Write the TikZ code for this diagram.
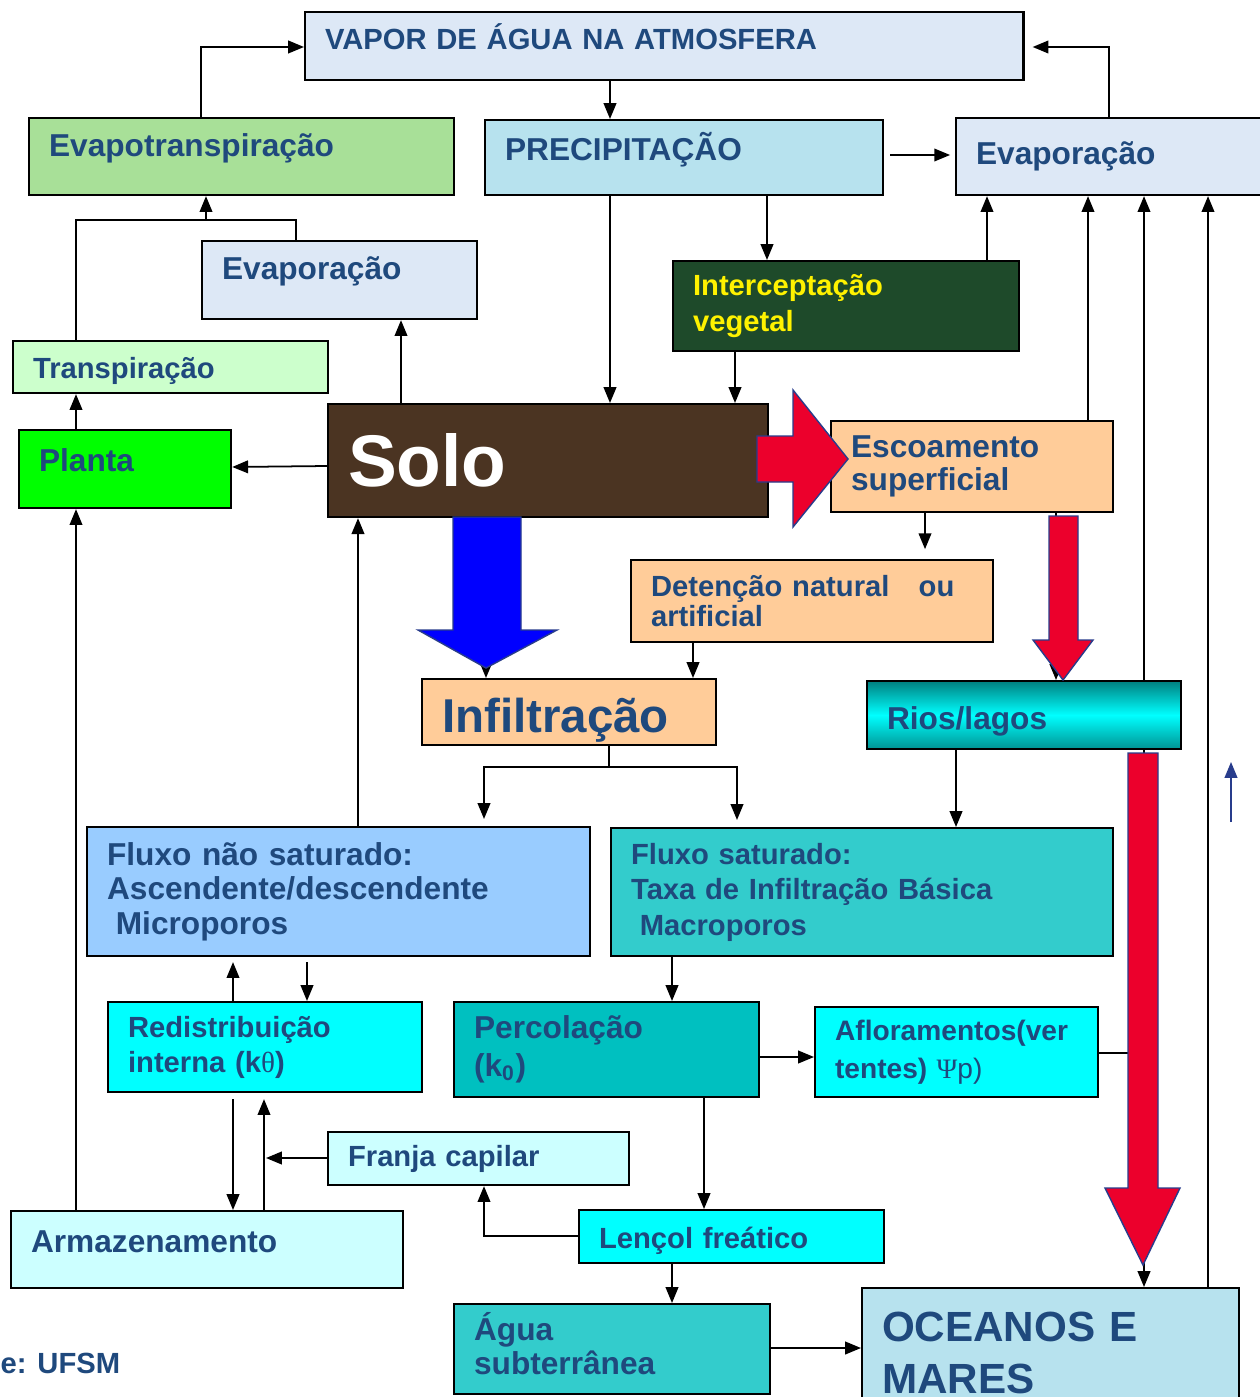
\documentclass[tikz,border=0pt]{standalone}
\usepackage{fontspec}
\setmainfont{Liberation Sans}
\newfontfamily\symfont{Liberation Serif}
\usetikzlibrary{arrows.meta}
\definecolor{txtblue}{RGB}{31,73,125}
\definecolor{skyfill}{RGB}{221,232,246}
\definecolor{rainfill}{RGB}{183,226,238}
\definecolor{leaffill}{RGB}{168,224,152}
\definecolor{mintfill}{RGB}{204,255,204}
\definecolor{limefill}{RGB}{0,255,0}
\definecolor{forest}{RGB}{30,74,42}
\definecolor{soil}{RGB}{75,52,34}
\definecolor{sand}{RGB}{255,204,153}
\definecolor{paleblue}{RGB}{153,204,255}
\definecolor{seagreen}{RGB}{51,204,204}
\definecolor{deepteal}{RGB}{0,192,192}
\definecolor{aqua}{RGB}{0,255,255}
\definecolor{palecyan}{RGB}{204,255,255}
\definecolor{darkteal}{RGB}{0,128,128}
\definecolor{flowred}{RGB}{236,0,44}
\definecolor{edgeblue}{RGB}{40,60,140}
\definecolor{fatblue}{RGB}{0,0,255}
\tikzset{
  box/.style={draw, line width=0.6pt, anchor=north west, inner xsep=0.2cm, inner ysep=0pt, align=left, text=txtblue},
  fsS/.style={font=\fontsize{8.3}{10}\selectfont\bfseries},
  fsM/.style={font=\fontsize{9}{9.8}\selectfont\bfseries},
  lift/.style={text depth=#1},
  drop/.style={text height=#1},
  ln/.style={line width=0.5pt},
  arr/.style={line width=0.5pt, -{Triangle[length=4.5pt,width=3.6pt]}},
  fatarrow/.style={draw=edgeblue, line width=0.4pt},
}
\begin{document}
\begin{tikzpicture}[x=0.01cm, y=-0.01cm]
\fill[white] (0,0) rectangle (1259,1397);
\useasboundingbox (0,0) rectangle (1259,1397);

\node[box, fsS, lift=5.6pt, fill=skyfill, minimum width=7.18cm, minimum height=0.68cm, text width=6.78cm] (vapor) at (304,11) {VAPOR DE ÁGUA NA ATMOSFERA};
\node[box, fsM, lift=6.5pt, fill=leaffill, minimum width=4.25cm, minimum height=0.77cm, text width=3.85cm] (evapotr) at (28,117) {Evapotranspiração};
\node[box, fsM, lift=6.5pt, fill=rainfill, minimum width=3.98cm, minimum height=0.75cm, text width=3.58cm] (precip) at (484,119) {PRECIPITAÇÃO};
\node[box, fsM, fill=skyfill, minimum width=3.20cm, minimum height=0.77cm, text width=2.80cm] (evapR) at (955,117) {Evaporação};
\node[box, fsM, lift=7pt, fill=skyfill, minimum width=2.75cm, minimum height=0.78cm, text width=2.35cm] (evapM) at (201,240) {Evaporação};
\node[box, fsS, fill=forest, text=yellow, minimum width=3.46cm, minimum height=0.90cm, text width=3.06cm] (interc) at (672,260) {Interceptação\\vegetal};
\node[box, fsS, drop=8.3pt, fill=mintfill, minimum width=3.15cm, minimum height=0.52cm, text width=2.75cm] (transp) at (12,340) {Transpiração};
\node[box, fsM, lift=5.1pt, fill=limefill, minimum width=2.12cm, minimum height=0.78cm, text width=1.72cm] (planta) at (18,429) {Planta};
\node[box, font=\fontsize{20.8}{24}\selectfont\bfseries, fill=soil, text=white, minimum width=4.40cm, minimum height=1.13cm, text width=4.00cm] (solo) at (327,403) {Solo};
\node[box, font=\fontsize{9}{9.4}\selectfont\bfseries, fill=sand, minimum width=2.82cm, minimum height=0.91cm, text width=2.42cm] (escoam) at (830,420) {Escoamento\\superficial};
\node[box, font=\fontsize{8.3}{8.8}\selectfont\bfseries, fill=sand, minimum width=3.62cm, minimum height=0.82cm, text width=3.22cm] (deten) at (630,559) {Detenção natural\ \ \ ou\\artificial};
\node[box, font=\fontsize{13.5}{16}\selectfont\bfseries, drop=14.6pt, fill=sand, minimum width=2.94cm, minimum height=0.66cm, text width=2.54cm] (infil) at (421,678) {Infiltração};
\node[box, fsM, drop=10pt, top color=darkteal, bottom color=darkteal!85!aqua, middle color=aqua, minimum width=3.14cm, minimum height=0.68cm, text width=2.74cm] (rios) at (866,680) {Rios/lagos};
\node[box, fsM, fill=paleblue, minimum width=5.03cm, minimum height=1.29cm, text width=4.63cm] (fluxoNS) at (86,826) {Fluxo não saturado:\\Ascendente/descendente\\\hspace*{2.5pt}Microporos};
\node[box, font=\fontsize{8.3}{10.1}\selectfont\bfseries, fill=seagreen, minimum width=5.02cm, minimum height=1.28cm, text width=4.62cm] (fluxoS) at (610,827) {Fluxo saturado:\\Taxa de Infiltração Básica\\\hspace*{2.5pt}Macroporos};
\node[box, fsS, fill=aqua, minimum width=3.14cm, minimum height=0.90cm, text width=2.74cm] (redist) at (107,1001) {Redistribuição\\interna (k{\symfont\mdseries θ})};
\node[box, font=\fontsize{9}{10.8}\selectfont\bfseries, fill=deepteal, minimum width=3.05cm, minimum height=0.95cm, text width=2.65cm] (percol) at (453,1001) {Percolação\\(k\textsubscript{0})};
\node[box, font=\fontsize{8}{10.8}\selectfont\bfseries, fill=aqua, minimum width=2.83cm, minimum height=0.90cm, text width=2.43cm] (aflor) at (814,1006) {Afloramentos(ver\\tentes) {\symfont\mdseries Ψ}{\mdseries p)}};
\node[box, fsS, fill=palecyan, minimum width=3.01cm, minimum height=0.53cm, text width=2.61cm] (franja) at (327,1131) {Franja capilar};
\node[box, fsM, lift=4.6pt, fill=palecyan, minimum width=3.92cm, minimum height=0.77cm, text width=3.52cm] (armaz) at (10,1210) {Armazenamento};
\node[box, fsS, drop=8.5pt, fill=aqua, minimum width=3.05cm, minimum height=0.53cm, text width=2.65cm] (lencol) at (578,1209) {Lençol freático};
\node[box, font=\fontsize{9}{9.7}\selectfont\bfseries, lift=13pt, fill=seagreen, minimum width=3.16cm, minimum height=0.90cm, text width=2.76cm] (agua) at (453,1303) {Água\\subterrânea};
\node[box, font=\fontsize{12}{14.8}\selectfont\bfseries, fill=rainfill, minimum width=3.77cm, minimum height=1.30cm, text width=3.37cm] (oceanos) at (861,1287) {OCEANOS E\\MARES};
\node[fsS, text=txtblue, anchor=west, inner sep=0pt] (fonte) at (0,1363) {e: UFSM};

\coordinate (tjoin) at (206,220);
\coordinate (isplit) at (609,767);
\coordinate (ajoin) at (1144,1053);
\coordinate (fjoin) at (266,1158);
\coordinate (bluetail) at (1231,822);
\coordinate (bluehead) at (1231,762);

\draw[arr] (evapotr.north -| 201,0) |- (vapor.west |- 0,47);
\draw[arr, shorten >=2.3pt] (evapR.north -| 1109,0) |- (vapor.east |- 0,47);
\draw[arr] (vapor.south -| 610,0) -- (precip.north -| 610,0);
\draw[arr, shorten <=1.7pt, shorten >=1.4pt] (precip.east |- 0,155) -- (evapR.west |- 0,155);
\draw[arr] (precip.south -| 610,0) -- (solo.north -| 610,0);
\draw[arr] (precip.south -| 767,0) -- (interc.north -| 767,0);
\draw[arr] (interc.north -| 987,0) -- (evapR.south -| 987,0);
\draw[arr] (interc.south -| 735,0) -- (solo.north -| 735,0);
\draw[ln] (transp.north -| 76,0) |- (tjoin) -| (evapM.north -| 296,0);
\draw[arr] (tjoin) -- (evapotr.south -| 206,0);
\draw[arr] (solo.north -| 401,0) -- (evapM.south -| 401,0);
\draw[arr] (solo.west |- 0,466) -- (planta.east |- 0,467);
\draw[arr] (planta.north -| 76,0) -- (transp.south -| 76,0);
\draw[arr] (armaz.north -| 76,0) -- (planta.south -| 76,0);
\draw[arr] (fluxoNS.north -| 358,0) -- (solo.south -| 358,0);
\draw[arr, shorten >=2.8pt] (escoam.south -| 925,0) -- (deten.north -| 925,0);
\draw[arr] (deten.south -| 693,0) -- (infil.north -| 693,0);
\draw[arr] (solo.south -| 486,0) -- (infil.north -| 486,0);
\draw[arr] (escoam.south -| 1056,0) -- (rios.north -| 1056,0);
\draw[ln] (infil.south -| 609,0) -- (isplit);
\draw[arr, shorten >=2pt] (isplit) -| (fluxoNS.north -| 484,0);
\draw[arr, shorten >=2pt] (isplit) -| (fluxoS.north -| 737,0);
\draw[arr] (rios.south -| 956,0) -- (fluxoS.north -| 956,0);
\foreach \x/\src in {1088/escoam, 1144/rios, 1208/oceanos}
  \draw[arr] (\src.north -| \x,0) -- (evapR.south -| \x,0);
\draw[arr] (rios.south -| 1144,0) -- (oceanos.north -| 1144,0);
\draw[ln] (aflor.east |- ajoin) -- (ajoin);
\draw[arr, shorten >=1.4pt] (redist.north -| 233,0) -- (fluxoNS.south -| 233,0);
\draw[arr, shorten <=1.4pt] (fluxoNS.south -| 307,0) -- (redist.north -| 307,0);
\draw[arr, shorten <=1.7pt] (redist.south -| 233,0) -- (armaz.north -| 233,0);
\draw[arr, shorten >=1.7pt] (armaz.north -| 264,0) -- (redist.south -| 264,0);
\draw[arr] (franja.west |- fjoin) -- (fjoin);
\draw[arr] (lencol.west |- 0,1236) -| (franja.south -| 484,0);
\draw[arr] (percol.south -| 704,0) -- (lencol.north -| 704,0);
\draw[arr] (percol.east |- 0,1057) -- (aflor.west |- 0,1057);
\draw[arr] (fluxoS.south -| 672,0) -- (percol.north -| 672,0);
\draw[arr] (lencol.south -| 672,0) -- (agua.north -| 672,0);
\draw[arr] (agua.east |- 0,1348) -- (oceanos.west |- 0,1348);
\draw[arr, edgeblue] (bluetail) -- (bluehead);

\filldraw[fatarrow, fill=flowred] (757,436) -- (793,436) -- (793,390) -- (848,459) -- (793,527) -- (793,482) -- (757,482) -- cycle;
\filldraw[fatarrow, fill=fatblue] (453,517) -- (521,517) -- (521,630) -- (557,630) -- (486,668) -- (418,630) -- (453,630) -- cycle;
\filldraw[fatarrow, fill=flowred] (1049,516) -- (1078,516) -- (1078,640) -- (1093,640) -- (1063,680) -- (1033,640) -- (1049,640) -- cycle;
\filldraw[fatarrow, fill=flowred] (1128,753) -- (1158,753) -- (1158,1188) -- (1180,1188) -- (1143,1265) -- (1105,1188) -- (1128,1188) -- cycle;
\end{tikzpicture}
\end{document}
